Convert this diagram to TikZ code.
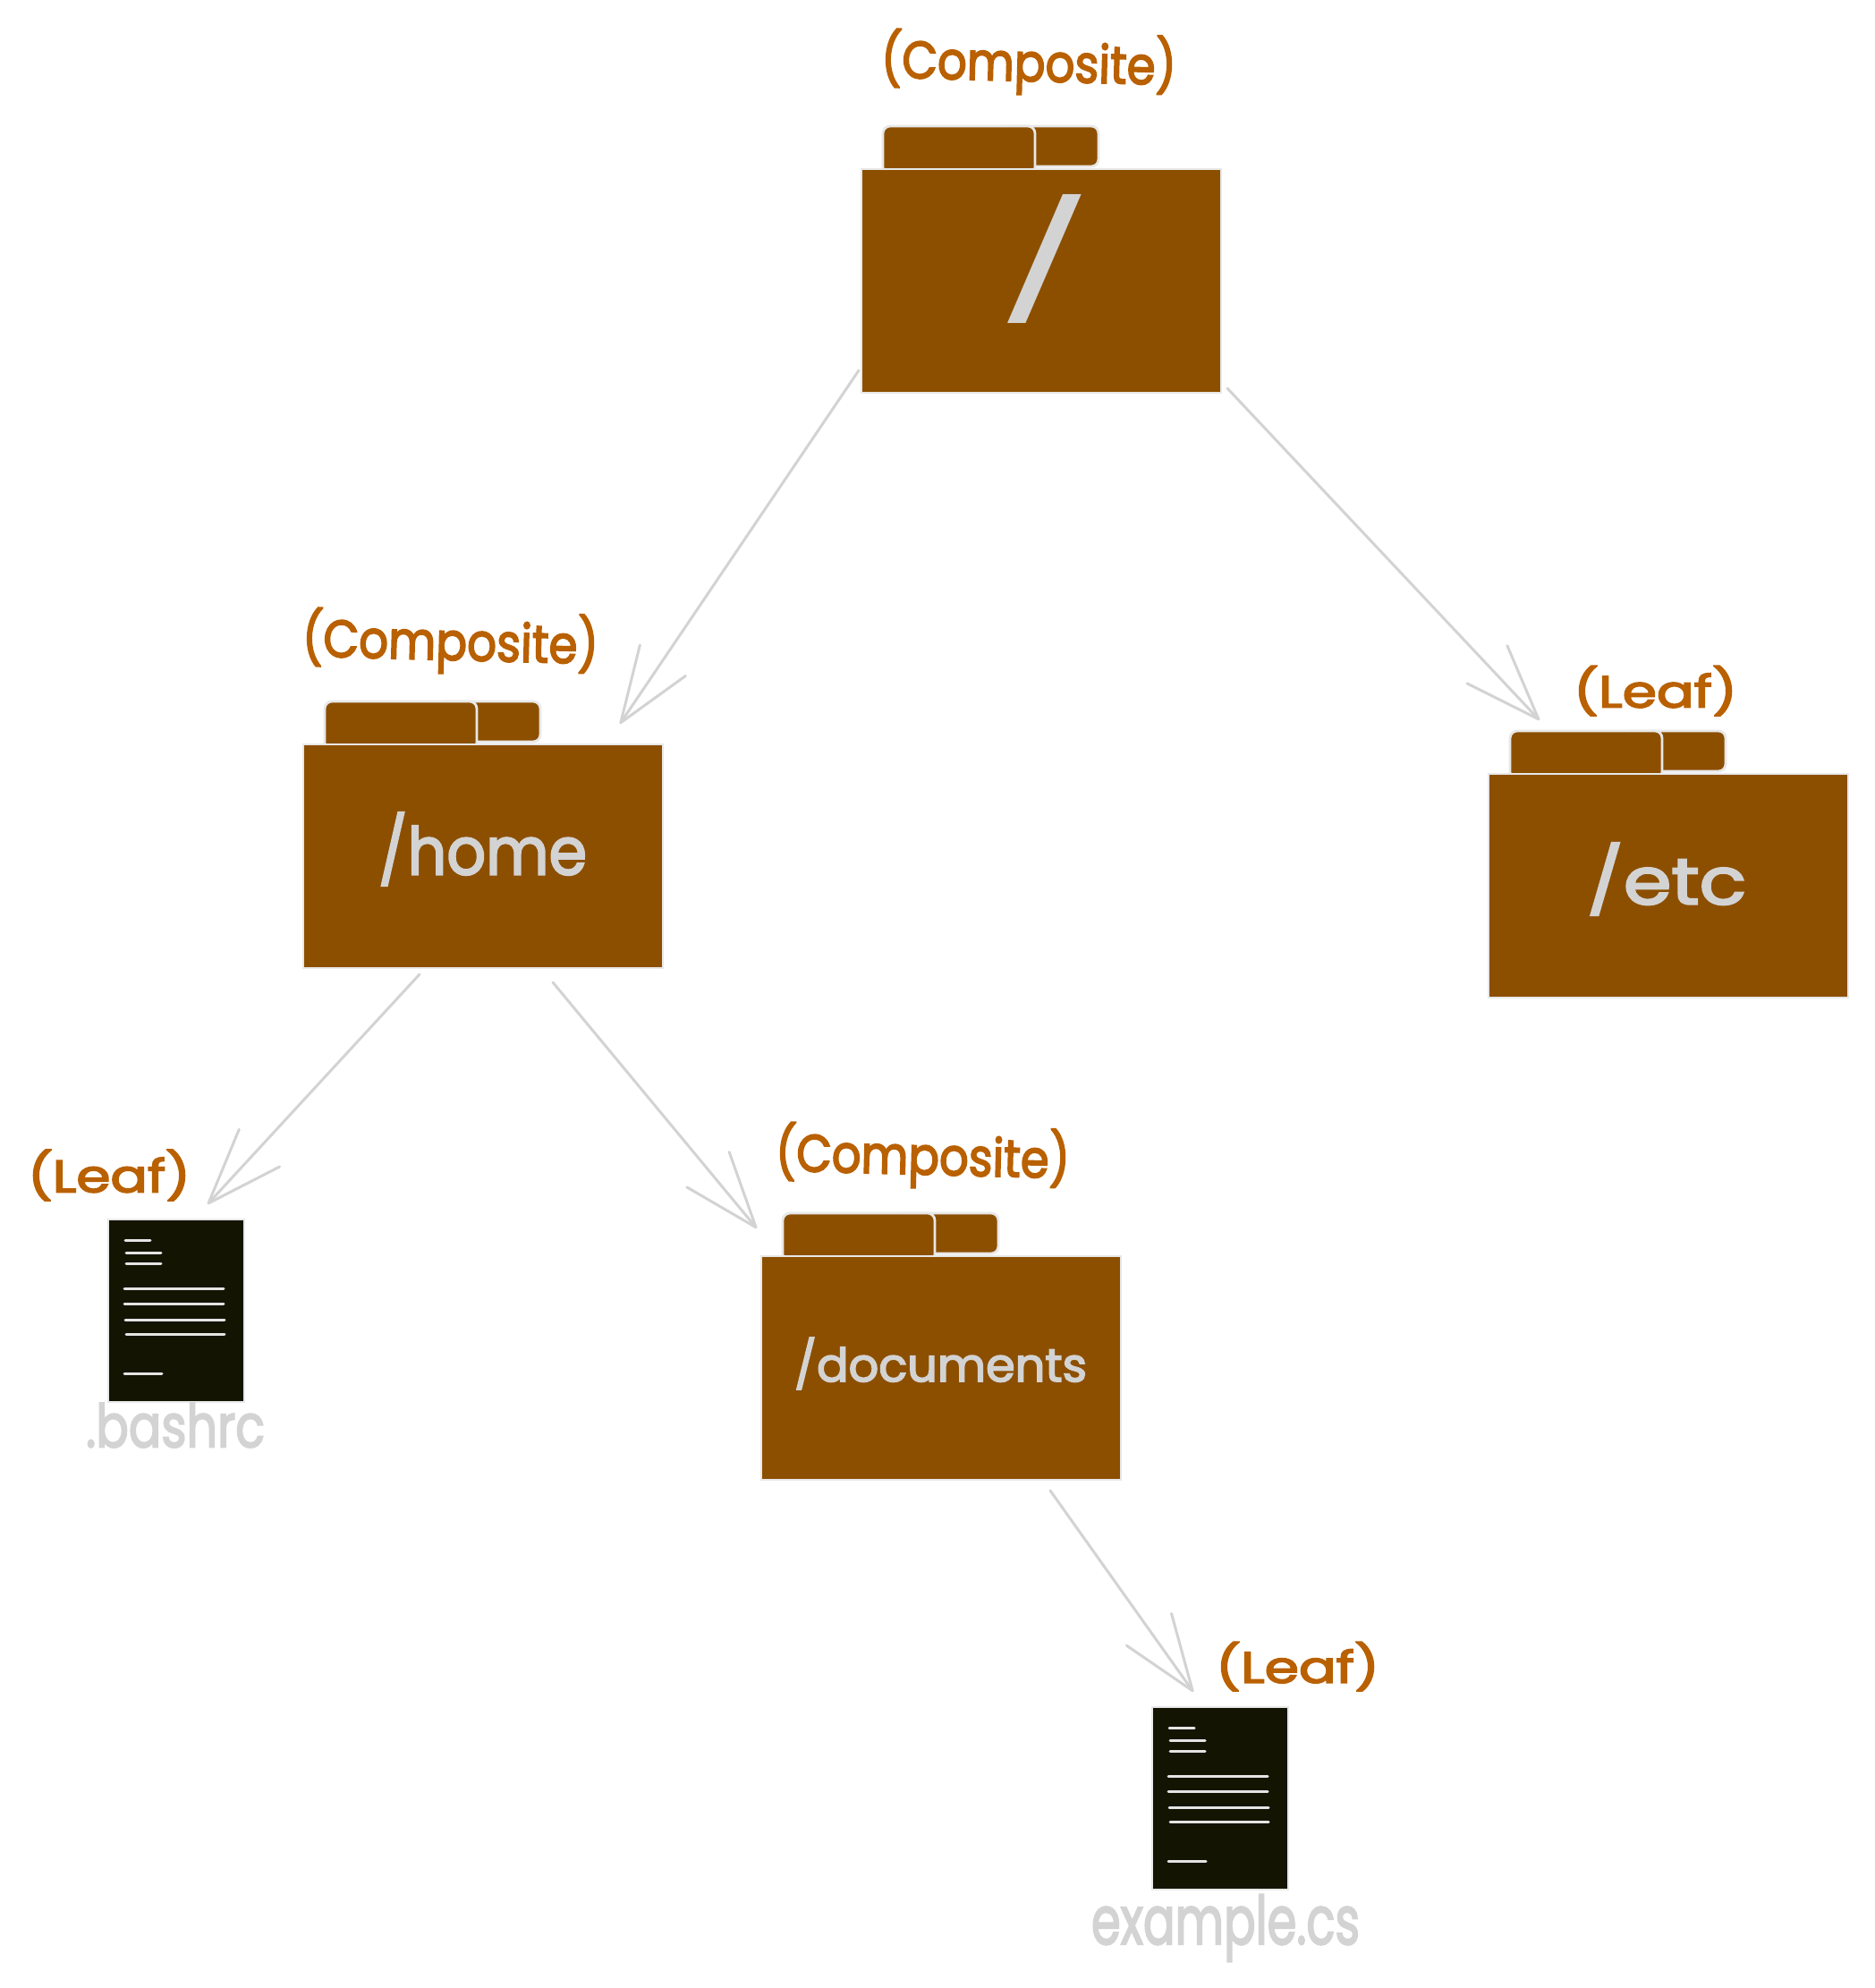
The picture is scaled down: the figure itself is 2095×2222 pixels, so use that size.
\documentclass[tikz,border=0pt]{standalone}
\usepackage{graphicx}
\usepackage{fontspec}
\setmainfont[FakeBold=3]{Poppins}
\newfontfamily\plainpoppins{Poppins}
\usetikzlibrary{arrows.meta,calc}
\definecolor{folderfill}{HTML}{8C4F00}
\definecolor{folderedge}{HTML}{E8E8E8}
\definecolor{docfill}{HTML}{141403}
\definecolor{inkgray}{HTML}{D3D3D3}
\definecolor{labelorange}{HTML}{B96000}
\definecolor{docline}{HTML}{E4E4E4}
\tikzset{
  x=0.5pt,y=-0.5pt,
  folderbody/.style={rectangle,draw=folderedge,fill=folderfill,line width=1.4pt,
    minimum width=201pt,minimum height=125pt,inner sep=0pt,outer sep=0pt,anchor=north west},
  foldertab/.style={draw=folderedge,fill=folderfill,line width=1.4pt,rounded corners=4pt},
  docbody/.style={rectangle,draw=folderedge,fill=docfill,line width=1.4pt,
    minimum width=76pt,minimum height=102pt,inner sep=0pt,outer sep=0pt,anchor=north west},
  docrule/.style={draw=docline,line width=1.5pt,line cap=round},
  rolelabel/.style={inner sep=0pt,outer sep=0pt,text=labelorange},
  inklabel/.style={inner sep=0pt,outer sep=0pt,text=inkgray},
  link/.style={draw=inkgray,line width=1.5pt,line cap=round,
    -{Straight Barb[length=42pt,width=30.8pt,round]}},
}
\newcommand{\fitted}[3]{\resizebox*{#1pt}{#2pt}{#3}}
\newcommand{\folderat}[3]{%
  \begin{scope}[shift={(#2,#3)}]
    \draw[foldertab] (150,-48) rectangle (265,-3);
    \draw[foldertab] (24,6) -- (24,-48) -- (194,-48) -- (194,6) -- cycle;
    \node[folderbody] (#1) at (0,0) {};
  \end{scope}}
\newcommand{\docat}[3]{%
  \begin{scope}[shift={(#2,#3)}]
    \node[docbody] (#1) at (0,0) {};
    \draw[docrule] (19,23) -- (47,23);
    \draw[docrule] (20,37) -- (59,37);
    \draw[docrule] (20,49) -- (59,49);
    \draw[docrule] (18,77) -- (129,77);
    \draw[docrule] (18,94) -- (129,94);
    \draw[docrule] (19,112) -- (130,112);
    \draw[docrule] (20,128) -- (130,128);
    \draw[docrule] (18,172) -- (60,172);
  \end{scope}}
\begin{document}
\begin{tikzpicture}
  \useasboundingbox (0,0) rectangle (2095,2222);
  \fill[white] (0,0) rectangle (2095,2222);

  \folderat{rootdir}{963}{189}
  \folderat{homedir}{339}{832}
  \folderat{etcdir}{1664}{865}
  \folderat{docsdir}{851}{1404}
  \docat{bashrcfile}{121}{1363}
  \docat{examplefile}{1288}{1908}

  \node[rolelabel,rotate=-1.5] (rootrole) at (1150,71) {\fitted{165}{35}{(Composite)}};
  \node[rolelabel,rotate=-1.5] (homerole) at (503.5,718) {\fitted{165.5}{35}{(Composite)}};
  \node[rolelabel,rotate=-1.5] (docsrole) at (1031.5,1293) {\fitted{164.5}{35}{(Composite)}};
  \node[rolelabel] (etcrole) at (1850.5,772) {\fitted{91.5}{28}{(Leaf)}};
  \node[rolelabel] (bashrcrole) at (122,1313.5) {\fitted{91}{28.5}{(Leaf)}};
  \node[rolelabel] (examplerole) at (1450.5,1862.5) {\fitted{91.5}{27.5}{(Leaf)}};

  \node[inklabel] (rootname) at (1168.5,289.5) {\fitted{54}{72}{\plainpoppins /}};
  \node[inklabel] (homename) at (539.5,949) {\fitted{116.5}{41}{/home}};
  \node[inklabel] (etcname) at (1863,982.5) {\fitted{89}{40.5}{/etc}};
  \node[inklabel] (docsname) at (1051.5,1524) {\fitted{163.5}{29}{/documents}};
  \node[inklabel] (bashrcname) at (196,1593) {\fitted{100}{25}{.bashrc}};
  \node[inklabel] (examplename) at (1370,2155) {\fitted{150}{37.5}{example.cs}};

  \draw[link] ($(rootdir.south west)+(-3,-25)$) -- ($(homedir.north east)+(-48,-23)$);
  \draw[link] ($(rootdir.south east)+(7,-5)$) -- ($(etcdir.north west)+(57,-60)$);
  \draw[link] ($(homedir.south west)+(130,7)$) -- ($(bashrcfile.north west)+(111,-17)$);
  \draw[link] ($(homedir.south west)+(279,16)$) -- ($(docsdir.north west)+(-5,-31)$);
  \draw[link] ($(docsdir.south west)+(323,12)$) -- ($(examplefile.north west)+(46,-17)$);
\end{tikzpicture}
\end{document}
